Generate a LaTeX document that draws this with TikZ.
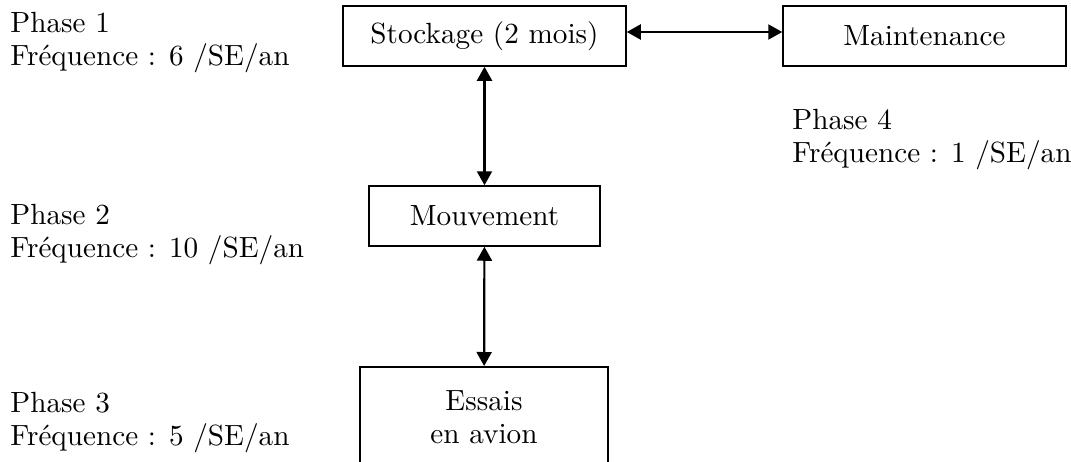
\documentclass[tikz,border=0pt]{standalone}
\usepackage{fontspec}
\setmainfont{lmroman10-regular.otf}
\usetikzlibrary{arrows.meta}

\begin{document}
\begin{tikzpicture}[x=0.5pt,y=-0.5pt,
	every node/.style={font=\fontsize{14.6}{16.5}\selectfont},
	box/.style={draw,line width=0.75pt,inner sep=0pt},
	phase/.style={align=left,anchor=base west,inner sep=0pt},
	>={Triangle[length=7pt,width=7.5pt]}]
		\useasboundingbox (0,0) rectangle (1071,461);
		% boxes
		\node[box,minimum width=141.5pt,minimum height=30pt] (stock) at (484.5,36) {Stockage (2 mois)};
		\node[box,minimum width=141.5pt,minimum height=30pt] (maint) at (924.5,36) {Maintenance};
		\node[box,minimum width=115.5pt,minimum height=30pt] (mouv) at (484.5,216) {Mouvement};
		\node[box,minimum width=124pt,minimum height=50.5pt,align=center,anchor=north] (essais) at (484,366) {Essais\\en avion};
		% phases (base = last line)
		\node[phase] (ph1) at (10,65) {Phase 1\\Fréquence : 6 /SE/an};
		\node[phase] (ph2) at (10,257) {Phase 2\\Fréquence : 10 /SE/an};
		\node[phase] (ph3) at (10,445) {Phase 3\\Fréquence : 5 /SE/an};
		\node[phase] (ph4) at (792,162) {Phase 4\\Fréquence : 1 /SE/an};
		% links
		\draw[<->,line width=1.1pt] ([yshift=2pt]stock.east) -- ([yshift=2pt]maint.west);
		\draw[<->,line width=1.1pt] (stock) -- (mouv);
		\draw[<->,line width=1.1pt] (mouv) -- (essais);
	\end{tikzpicture}
\end{document}
